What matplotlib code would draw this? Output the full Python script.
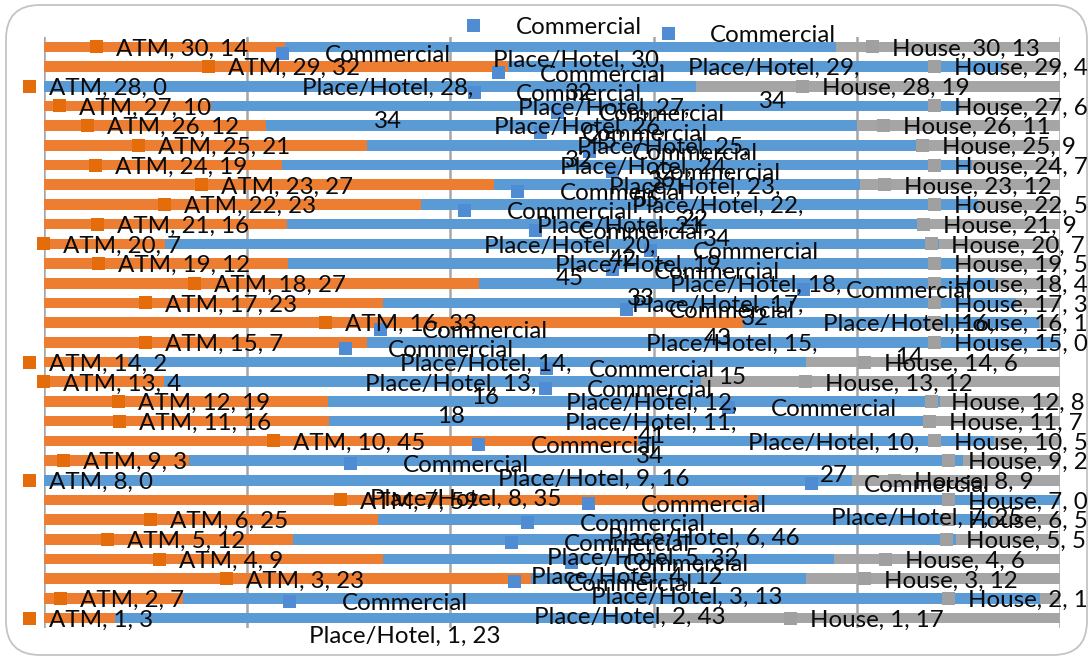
import textwrap
import numpy as np
import matplotlib
matplotlib.use("Agg")
import matplotlib.pyplot as plt
from matplotlib.patches import FancyBboxPatch, Rectangle
from matplotlib.transforms import IdentityTransform

# ---- data -------------------------------------------------------------
rows = list(range(1, 31))
series_names = ["ATM", "Commercial Place/Hotel", "House"]
atm = [3, 7, 23, 9, 12, 25, 59, 0, 3, 45, 16, 19, 4, 2, 7,
       33, 23, 27, 12, 7, 16, 23, 27, 19, 21, 12, 10, 0, 32, 14]
commercial = [23, 43, 13, 12, 32, 46, 25, 35, 16, 27, 34, 41, 18, 16, 15,
              14, 43, 32, 33, 45, 42, 34, 22, 55, 36, 32, 45, 34, 34, 32]
house = [17, 1, 12, 6, 5, 5, 0, 9, 2, 5, 7, 8, 12, 6, 0,
         1, 3, 4, 5, 7, 9, 5, 12, 7, 9, 11, 6, 19, 4, 13]
colors = ["#ED7D31", "#5B9BD5", "#A5A5A5"]
key_colors = ["#E46C0A", "#4F8CD3", "#A0A0A0"]

# ---- figure -------------------------------------------------------------
W, H = 1092, 660
fig = plt.figure(figsize=(W / 100, H / 100), dpi=100)
fig.patch.set_facecolor("white")

# rounded chart-area frame (pixel coordinates)
frame = FancyBboxPatch((6, 5), 1081, 650,
                       boxstyle="round,pad=0,rounding_size=34",
                       transform=IdentityTransform(), facecolor="none",
                       edgecolor="#c4c4c4", linewidth=1.3, zorder=-1)
fig.patches.append(frame)

ax = fig.add_axes([44 / W, 1 - 628 / H, (1060 - 44) / W, (628 - 37) / H])
ax.set_facecolor("none")

values = np.array([atm, commercial, house], dtype=float)
totals = values.sum(axis=0)
shares = values / totals
y = np.array(rows)

lefts = np.zeros(len(rows))
for k in range(3):
    ax.barh(y, shares[k], left=lefts, height=0.54, color=colors[k],
            edgecolor="none", zorder=2)
    lefts = lefts + shares[k]

ax.set_xlim(0, 1)
ax.set_ylim(0.5, 30.5)
ax.set_xticks(np.linspace(0, 1, 6))
ax.set_yticks([])
ax.tick_params(axis="x", length=0, labelbottom=False)
ax.grid(axis="x", color="#a6a6a6", linewidth=1.8, zorder=1)
ax.set_axisbelow(True)
for s in ax.spines.values():
    s.set_visible(False)

# ---- data labels --------------------------------------------------------
family = "Lato"
renderer = fig.canvas.get_renderer()
probe = fig.text(0, 0, "Commercial", fontsize=20, family=family)
fs = 20 * 126 / probe.get_window_extent(renderer).width
probe.remove()


def text_width(s):
    t = fig.text(0, 0, s, fontsize=fs, family=family)
    w = t.get_window_extent(renderer).width
    t.remove()
    return w


cap = fs * 100 / 72 * 0.7165
line_gap = 33
mark = 13
key_offset = 18          # legend key + gap shift the text to the right
x_min, x_max = 23, 1088
y_min_first = 25

fig.canvas.draw()
to_px = ax.transData.transform

lefts = np.zeros(len(rows))
for k in range(3):
    for i, r in enumerate(rows):
        center = lefts[i] + shares[k][i] / 2
        px, py = to_px((center, r))
        img_y = H - py
        text = f"{series_names[k]}, {r}, {values[k][i]:.0f}"
        lines = textwrap.wrap(text, 18, break_on_hyphens=False)
        widths = [text_width(s) for s in lines]
        bw = max(widths)
        tl = px + key_offset - bw / 2
        ml = tl - 2 * mark
        if ml < x_min:
            tl += x_min - ml
        if tl + bw > x_max:
            tl = x_max - bw
        ml = tl - 2 * mark
        n = len(lines)
        ys = [img_y + (j - (n - 1) / 2) * line_gap for j in range(n)]
        if ys[0] < y_min_first:
            ys = [v + (y_min_first - ys[0]) for v in ys]
        cx = tl + bw / 2
        fig.patches.append(Rectangle((ml, H - ys[0] - mark / 2), mark, mark,
                                     transform=IdentityTransform(),
                                     facecolor=key_colors[k], edgecolor="none",
                                     zorder=5))
        for s, yy in zip(lines, ys):
            fig.text(cx, H - yy - cap / 2, s, transform=IdentityTransform(),
                     ha="center", va="baseline", fontsize=fs,
                     family=family, color="#0a0a0a", zorder=6)
    lefts = lefts + shares[k]

fig.savefig("out.png", dpi=100, facecolor="white")
